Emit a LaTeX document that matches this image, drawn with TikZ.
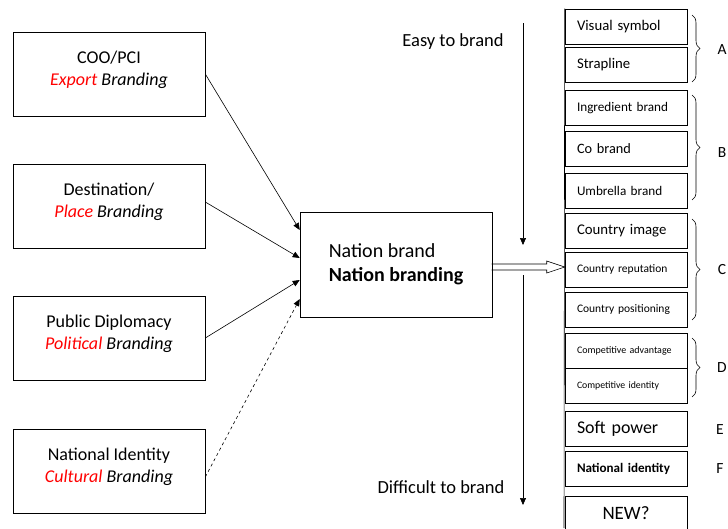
\documentclass[tikz,border=0pt]{standalone}
\usepackage{fontspec}
\setmainfont{Carlito}
\usetikzlibrary{arrows.meta,decorations.pathreplacing}

\newcommand{\redit}[1]{{\color{red}\itshape #1}}

\begin{document}
\begin{tikzpicture}[x = 1pt, y = -1pt, line width = 0.6pt,
    srcbox/.style = {shape = rectangle, draw, minimum width = 192pt, minimum height = 84pt, align = center, text depth = 11pt, font = \fontsize{18}{22}\selectfont},
    itembox/.style = {shape = rectangle, draw, minimum height = 35pt, text width = 98pt, inner xsep = 12pt, inner ysep = 0pt, align = left},
    feed/.style = {-{Triangle[length = 7pt, width = 6pt]}},
    brace/.style = {decorate, decoration = {brace, amplitude = 8pt}},
    tag/.style = {font = \fontsize{15.5}{18}\selectfont}]
    \useasboundingbox (0,0) rectangle (728,528);
    \clip (0,0) rectangle (728,528);

    % four kinds of branding
    \node [srcbox] (coo) at (109,74) {COO/PCI\\ \redit{Export} \textit{Branding}};
    \node [srcbox] (dest) at (109,206) {Destination/\\ \redit{Place} \textit{Branding}};
    \node [srcbox] (pd) at (109,338) {Public Diplomacy\\ \redit{Political} \textit{Branding}};
    \node [srcbox] (ni) at (109,471) {National Identity\\ \redit{Cultural} \textit{Branding}};

    \node [shape = rectangle, draw, minimum width = 192pt, minimum height = 105pt, align = left, font = \fontsize{20}{24}\selectfont] (nb) at (396,264.5) {Nation brand\\ \textbf{Nation branding}};

    \draw [feed] (coo.east) -- ([yshift = 34.5pt]nb.west);
    \draw [feed] ([yshift = 4pt]dest.east) -- ([yshift = 6.5pt]nb.west);
    \draw [feed] (pd.east) -- ([yshift = -15.5pt]nb.west);
    \draw [feed, dashed] ([yshift = -6pt]ni.east) -- ([yshift = -34.5pt]nb.west);

    % the ladder of brands
    \node [itembox, font = \fontsize{14.75}{17}\selectfont] (vis) at (626,26.5) {Visual symbol};
    \node [itembox, font = \fontsize{14.75}{17}\selectfont] (strap) at (626,64.5) {Strapline};
    \node [itembox, font = \fontsize{13.2}{15}\selectfont] (ingr) at (626,108) {Ingredient brand};
    \node [itembox, font = \fontsize{14.3}{17}\selectfont] (co) at (626,149) {Co brand};
    \node [itembox, font = \fontsize{13.2}{15}\selectfont] (umb) at (626,190.5) {Umbrella brand};
    \node [itembox, font = \fontsize{14.8}{17}\selectfont] (cimg) at (626,230.5) {Country image};
    \node [itembox, font = \fontsize{11.5}{13}\selectfont] (crep) at (626,269.5) {Country reputation};
    \node [itembox, font = \fontsize{11.5}{13}\selectfont] (cpos) at (626,309.5) {Country positioning};
    \node [itembox, font = \fontsize{10}{12}\selectfont] (cadv) at (626,351) {Competitive advantage};
    \node [itembox, font = \fontsize{9.8}{12}\selectfont] (cid) at (626,385.5) {Competitive identity};
    \node [itembox, font = \fontsize{17.9}{21}\selectfont] (soft) at (626,429) {Soft power};
    \node [itembox, font = \fontsize{13.1}{15}\bfseries] (natid) at (626,468.5) {National identity};
    \node [itembox, align = center, font = \fontsize{18.9}{22}\selectfont] (new) at (626,513.5) {NEW?};
    \coordinate (foot) at (564,528);
    \draw (vis.north west) -- (foot);

    % hollow arrow into the ladder
    \coordinate (tip) at ([yshift = -2.5pt]nb.east -| crep.west);
    \draw (tip) -- ++(-18,-6) -- ++(0,3) -- ++(-55,0);
    \draw (tip) -- ++(-18,6) -- ++(0,-3) -- ++(-55,0);

    % easy at the top, difficult at the bottom
    \node [font = \fontsize{18.5}{21}\selectfont] (easy) at (453,42) {Easy to brand};
    \node [font = \fontsize{18.5}{21}\selectfont] (hard) at (441,487) {Difficult to brand};
    \coordinate (e1) at (523,23);
    \coordinate (e2) at (523,245);
    \coordinate (d1) at (523,275);
    \coordinate (d2) at (523,505);
    \draw [feed] (e1) -- (e2);
    \draw [feed] (d1) -- (d2);

    % groups
    \draw [brace] (692,15) -- (692,82);
    \draw [brace] (692,95) -- (692,200);
    \draw [brace] (692,219) -- (692,320);
    \draw [brace] (692,338) -- (692,397);
    \node [tag] (A) at (722,50) {A};
    \node [tag] (B) at (722,153) {B};
    \node [tag] (C) at (722,270) {C};
    \node [tag] (D) at (722,368) {D};
    \node [tag] (E) at (720,430) {E};
    \node [tag] (F) at (720,469) {F};
\end{tikzpicture}
\end{document}
